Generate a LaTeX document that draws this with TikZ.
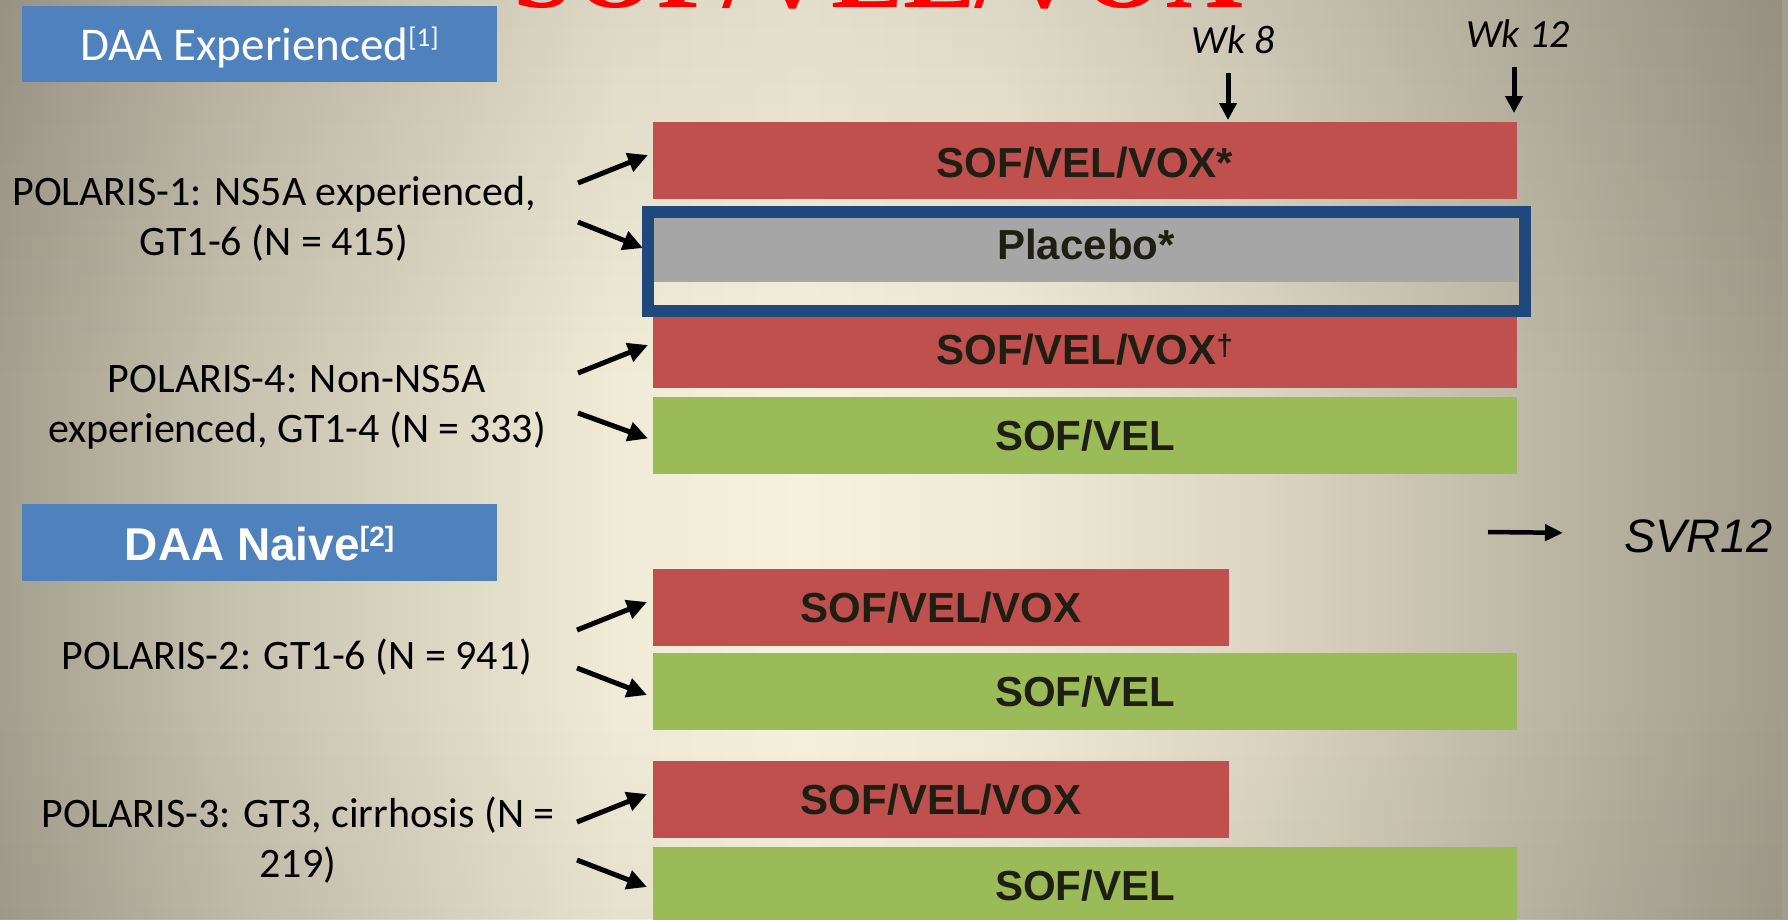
\documentclass[tikz,border=0pt]{standalone}
\usepackage{fontspec}
\setmainfont{Carlito}
\newfontfamily\arialfont{Liberation Sans}
\newfontfamily\timesfont{Liberation Serif}
\usetikzlibrary{arrows.meta,fadings}

\definecolor{bgL}{HTML}{A59F8F}
\definecolor{bgLa}{HTML}{C6C0AE}
\definecolor{bgLb}{HTML}{F0EBD6}
\definecolor{bgM}{HTML}{F6F1DC}
\definecolor{bgRa}{HTML}{F0EBD6}
\definecolor{bgRb}{HTML}{DCD6C2}
\definecolor{bgR}{HTML}{A29C8C}
\definecolor{hdrblue}{HTML}{4F81BD}
\definecolor{armred}{HTML}{C0504D}
\definecolor{armgreen}{HTML}{9BBB59}
\definecolor{armgray}{HTML}{A6A6A6}
\definecolor{frameblue}{HTML}{1F497D}
\definecolor{armtext}{HTML}{1E1E12}
\definecolor{titlered}{HTML}{FF0000}

% slide background: dark edges, light band left of centre
\pgfdeclarehorizontalshading{slidebg}{100bp}{color(0bp)=(bgL); color(25bp)=(bgL);
  color(31.4bp)=(bgLa); color(42.2bp)=(bgLb); color(47.4bp)=(bgM); color(53bp)=(bgRa);
  color(60bp)=(bgRb); color(75bp)=(bgR); color(100bp)=(bgR)}

\tikzset{
  arm/.style={anchor=north west, inner sep=0pt, outer sep=0pt, text=armtext,
    text height=30pt, text depth=0pt,
    font=\arialfont\bfseries\fontsize{42}{50}\selectfont},
  longarm/.style={arm, minimum width=864pt, minimum height=77pt},
  shortarm/.style={arm, minimum width=576pt, minimum height=77pt},
  header/.style={anchor=north west, fill=hdrblue, text=white, inner sep=0pt,
    outer sep=0pt, minimum width=475pt, minimum height=76pt, text depth=0pt},
  study/.style={align=center, inner sep=0pt, anchor=base,
    font=\fontsize{42}{50}\selectfont},
  week/.style={inner sep=0pt, anchor=base, font=\itshape\fontsize{40}{48}\selectfont},
  conn/.style={line width=5pt, -{Triangle[length=20pt,width=19pt]}},
  tick/.style={line width=5pt, -{Triangle[length=17pt,width=17pt]}},
}

\begin{document}
\begin{tikzpicture}[x=1pt, y=-1pt]
\useasboundingbox (0,0) rectangle (1788,919);
\clip (0,0) rectangle (1788,919);
\shade[shading=slidebg] (0,0) rectangle (1788,919);
% slightly darker band along the top and bottom edges
\fill[black, opacity=0.08, path fading=south] (0,0) rectangle (1788,380);
\fill[black, opacity=0.04, path fading=north] (0,700) rectangle (1788,919);

% slide title, mostly above the visible area
\node[anchor=base west, inner sep=0pt, text=titlered,
  font=\timesfont\bfseries\fontsize{108}{108}\selectfont] (title) at (513,7) {SOF/VEL/VOX};

% group headers
\node[header, text height=33pt, font=\fontsize{47}{56}\selectfont] (hexp) at (22,6)
  {DAA Experienced\raisebox{14pt}{\fontsize{27}{27}\selectfont[1]}};
\node[header, minimum height=77pt, text height=35pt,
  font=\arialfont\bfseries\fontsize{46}{56}\selectfont] (hnaive) at (22,504)
  {DAA Naive\raisebox{14pt}{\fontsize{28}{28}\selectfont[2]}};

% week markers
\node[week] (wk8) at (1233,53) {Wk 8};
\node[week] (wk12) at (1518,47) {Wk 12};

% treatment arms
\node[longarm, fill=armred, text height=33pt] (vox1) at (653,122) {SOF/VEL/VOX*};
\node[longarm, fill=armred] (vox2) at (653,311) {SOF/VEL/VOX\textsuperscript{†}};
\node[arm, fill=armgray, minimum width=864pt, minimum height=64pt, text height=18pt]
  (pbo) at (654,218) {Placebo*};
\draw[frameblue, line width=12pt] (648,212) rectangle (1525,311);
\node[longarm, fill=armgreen] (vel1) at (653,397) {SOF/VEL};
\node[shortarm, fill=armred] (vox3) at (653,569) {SOF/VEL/VOX};
\node[longarm, fill=armgreen] (vel2) at (653,653) {SOF/VEL};
\node[shortarm, fill=armred] (vox4) at (653,761) {SOF/VEL/VOX};
\node[longarm, fill=armgreen] (vel3) at (653,847) {SOF/VEL};

% study descriptions (placed by the baseline of their last line)
\node[study] (p1) at (274,255) {POLARIS-1: NS5A experienced,\\GT1-6 (N = 415)};
\node[study] (p4) at (297,442) {POLARIS-4: Non-NS5A\\experienced, GT1-4 (N = 333)};
\node[study] (p2) at (297,669) {POLARIS-2: GT1-6 (N = 941)};
\node[study] (p3) at (298,877) {POLARIS-3: GT3, cirrhosis (N =\\219)};

% outcome
\node[inner sep=0pt, anchor=base west, font=\arialfont\itshape\fontsize{47}{56}\selectfont]
  (svr) at (1624,552) {SVR12};

% arrow tails
\coordinate (p1a) at (578,183);
\coordinate (p1b) at (578,222);
\coordinate (p4a) at (578,373);
\coordinate (p4b) at (578,413);
\coordinate (p2a) at (577,630);
\coordinate (p2b) at (577,668);
\coordinate (p3a) at (577,822);
\coordinate (p3b) at (577,860);
\coordinate (svrtail) at (1488,532);
\coordinate (w8tip) at (1228,120);
\coordinate (w12tip) at (1514,113);

% randomisation arrows
\draw[conn] (p1a) -- ([xshift=-5pt,yshift=5.5pt]vox1.west);
\draw[conn] (p1b) -- ([xshift=-11pt,yshift=2pt]pbo.west);
\draw[conn] (p4a) -- ([xshift=-5pt,yshift=4.5pt]vox2.west);
\draw[conn] (p4b) -- ([xshift=-5pt,yshift=-3pt]vel1.west);
\draw[conn] (p2a) -- ([xshift=-6pt,yshift=5.5pt]vox3.west);
\draw[conn] (p2b) -- ([xshift=-6pt,yshift=-3.5pt]vel2.west);
\draw[conn] (p3a) -- ([xshift=-6pt,yshift=5.5pt]vox4.west);
\draw[conn] (p3b) -- ([xshift=-6pt,yshift=-1.5pt]vel3.west);

% week arrows and outcome arrow
\draw[tick] ([xshift=-5pt,yshift=-20pt]wk8.south) -- (w8tip);
\draw[tick] ([xshift=-4pt,yshift=-20pt]wk12.south) -- (w12tip);
\draw[line width=4.5pt, -{Triangle[length=18pt,width=16pt]}] (svrtail) -- ([xshift=-61pt,yshift=3pt]svr.west);
\end{tikzpicture}
\end{document}
